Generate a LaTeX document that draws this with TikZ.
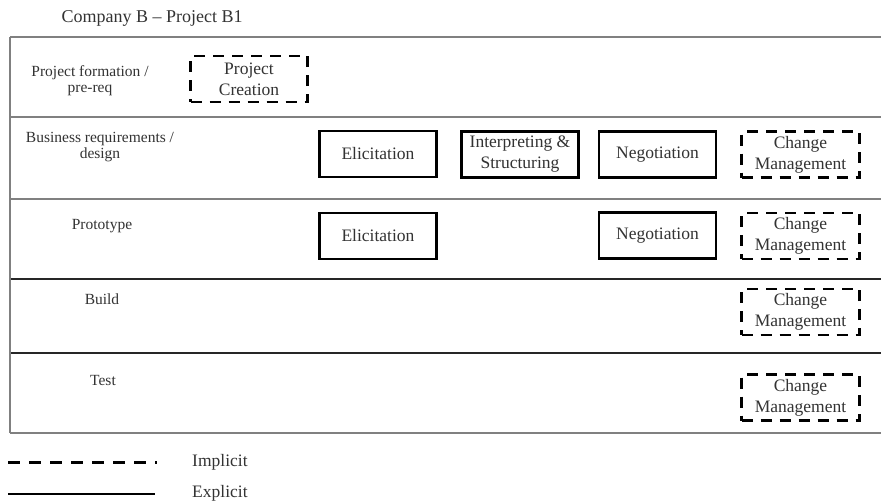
\documentclass[tikz,border=0pt]{standalone}
\usepackage{fontspec}
\setmainfont{Liberation Serif}
\begin{document}
\begin{tikzpicture}[x=1pt,y=-1pt,
  lbl/.style={text=black!80, font=\fontsize{15.5}{16}\selectfont, align=center, inner sep=0pt},
  boxbase/.style={text=black!80, font=\fontsize{17.5}{21}\selectfont, align=center, inner sep=0pt,
    minimum width=117pt, minimum height=46pt, line width=2.5pt},
  solidbox/.style={boxbase, draw=black},
  dashbox/.style={boxbase, draw=black, dash pattern=on 11pt off 8pt},
  rowline/.style={draw=black!50, line width=1.3pt},
  darkline/.style={draw=black!85, line width=1.4pt}
]
\useasboundingbox[fill=white] (0,0) rectangle (881,501);

% frame
\draw[rowline] (10,37) -- (881,37);
\draw[rowline] (10,117) -- (881,117);
\draw[rowline] (10,199) -- (881,199);
\draw[darkline] (10,279) -- (881,279);
\draw[darkline] (10,353) -- (881,353);
\draw[rowline] (10,433) -- (881,433);
\draw[rowline] (10,37) -- (10,433);

% title
\node[lbl, font=\fontsize{18}{20}\selectfont] (title) at (152,18) {Company B -- Project B1};

% row labels
\node[lbl] (r1) at (90,80.5) {Project formation /\\pre-req};
\node[lbl] (r2) at (100,147) {Business requirements /\\design};
\node[lbl] (r3) at (102,226) {Prototype};
\node[lbl] (r4) at (102,299) {Build};
\node[lbl] (r5) at (103,380) {Test};

% boxes
\node[dashbox] (pc) at (249,79) {Project\\Creation};
\node[solidbox] (e1) at (378,154) {Elicitation};
\node[solidbox] (is) at (520,154.5) {Interpreting \&\\Structuring};
\node[solidbox] (n1) at (657.5,154.5) {Negotiation};
\node[dashbox, minimum width=118pt] (cm1) at (800.5,154.5) {Change\\Management};
\node[solidbox] (e2) at (378,236) {Elicitation};
\node[solidbox] (n2) at (657.5,235.5) {Negotiation};
\node[dashbox, minimum width=118pt] (cm2) at (800.5,236) {Change\\Management};
\node[dashbox, minimum width=118pt] (cm3) at (800.5,312) {Change\\Management};
\node[dashbox, minimum width=118pt] (cm4) at (800.5,397.5) {Change\\Management};

% legend
\coordinate (ia) at (8,462);
\coordinate (ib) at (157,462);
\coordinate (ea) at (8,494);
\coordinate (eb) at (155,494);
\draw[line width=3pt, dash pattern=on 12pt off 9pt] (ia) -- (ib);
\draw[line width=2.5pt] (ea) -- (eb);
\node[lbl, font=\fontsize{17.5}{18}\selectfont, anchor=west] (imp) at (192,462) {Implicit};
\node[lbl, font=\fontsize{17.5}{18}\selectfont, anchor=west] (exp) at (192,493) {Explicit};
\end{tikzpicture}
\end{document}
